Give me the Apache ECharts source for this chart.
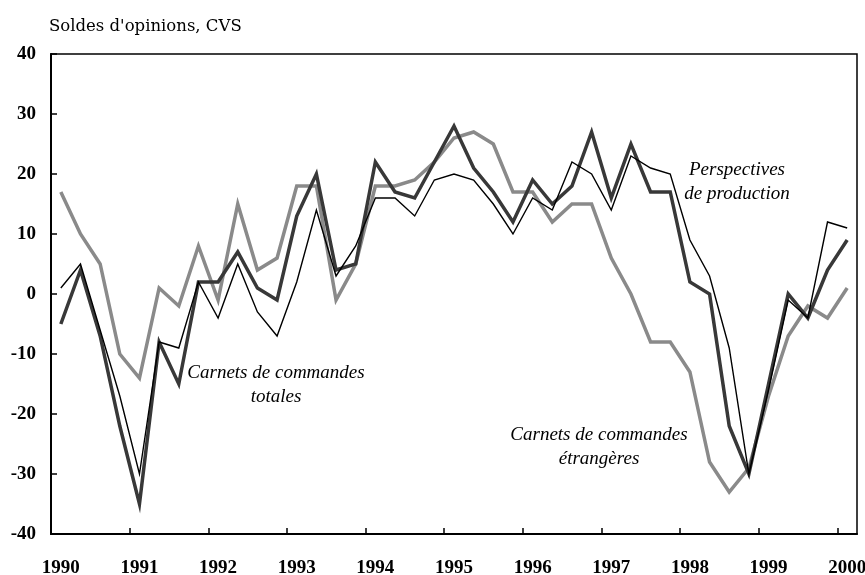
<!DOCTYPE html>
<html>
<head>
<meta charset="utf-8">
<script src="https://cdn.jsdelivr.net/npm/echarts@6/dist/echarts.min.js"></script>
<style>
html,body{margin:0;padding:0;background:#fff;}
#chart{width:865px;height:575px;}
</style>
</head>
<body>
<div id="chart"></div>
<script>
// Quarters 1990T1 .. 2000T1
const quarters = [
  "1990T1","1990T2","1990T3","1990T4",
  "1991T1","1991T2","1991T3","1991T4",
  "1992T1","1992T2","1992T3","1992T4",
  "1993T1","1993T2","1993T3","1993T4",
  "1994T1","1994T2","1994T3","1994T4",
  "1995T1","1995T2","1995T3","1995T4",
  "1996T1","1996T2","1996T3","1996T4",
  "1997T1","1997T2","1997T3","1997T4",
  "1998T1","1998T2","1998T3","1998T4",
  "1999T1","1999T2","1999T3","1999T4",
  "2000T1"
];
const tickYears = [1990,1991,1992,1993,1994,1995,1996,1997,1998,1999,2000];
const yTicks = [-40,-30,-20,-10,0,10,20,30,40];

// Perspectives de production (thin black)
const perspectives = [
  1, 5, -6, -17,
  -30, -8, -9, 2,
  -4, 5, -3, -7,
  2, 14, 3, 8,
  16, 16, 13, 19,
  20, 19, 15, 10,
  16, 14, 22, 20,
  14, 23, 21, 20,
  9, 3, -9, -30,
  -16, -1, -4, 12,
  11
];
// Carnets de commandes totales (thick dark grey)
const totales = [
  -5, 4, -7, -22,
  -35, -8, -15, 2,
  2, 7, 1, -1,
  13, 20, 4, 5,
  22, 17, 16, 22,
  28, 21, 17, 12,
  19, 15, 18, 27,
  16, 25, 17, 17,
  2, 0, -22, -30,
  -15, 0, -4, 4,
  9
];
// Carnets de commandes étrangères (thick light grey)
const etrangeres = [
  17, 10, 5, -10,
  -14, 1, -2, 8,
  -1, 15, 4, 6,
  18, 18, -1, 5,
  18, 18, 19, 22,
  26, 27, 25, 17,
  17, 12, 15, 15,
  6, 0, -8, -8,
  -13, -28, -33, -29,
  -17, -7, -2, -4,
  1
];

// quarter label -> position on the time axis (middle of the quarter)
function qPos(q){
  const y = parseInt(q.slice(0,4),10);
  const n = parseInt(q.slice(5),10);
  return y + (n - 0.5) / 4;
}
function pairs(vals){ return quarters.map((q,i)=>[qPos(q), vals[i]]); }

const labelPositions = tickYears.map(y => qPos(y + "T1"));

const chart = echarts.init(document.getElementById('chart'), null, {renderer:'canvas'});
const tickFont = {fontFamily:'"Liberation Serif", serif', fontWeight:'bold', fontSize:19, color:'#000'};
const annFont = '"Liberation Serif", serif';

chart.setOption({
  animation:false,
  backgroundColor:'#fff',
  grid:{left:51, right:8, top:54, bottom:41, show:true, borderColor:'#000', borderWidth:1.5,
        backgroundColor:'transparent', containLabel:false, outerBoundsMode:'none'},
  xAxis:{
    type:'value', min:1990, max:2000.25, interval:1,
    axisLine:{show:true, onZero:false, lineStyle:{color:'#000', width:2}},
    axisTick:{show:true, inside:true, length:6, lineStyle:{color:'#000', width:1.5}, customValues: tickYears},
    axisLabel:Object.assign({show:true, margin:25, hideOverlap:false, customValues: labelPositions,
      formatter: v => String(Math.floor(v + 1e-6))}, tickFont),
    splitLine:{show:false}
  },
  yAxis:{
    type:'value', min:-40, max:40, interval:10,
    axisLine:{show:true, onZero:false, lineStyle:{color:'#000', width:2}},
    axisTick:{show:true, inside:true, length:6, lineStyle:{color:'#000', width:1.5}},
    axisLabel:Object.assign({show:true, margin:15, customValues: yTicks}, tickFont),
    splitLine:{show:false}
  },
  series:[
    {name:"Carnets de commandes étrangères", type:'line', data:pairs(etrangeres), showSymbol:false, symbol:'none',
     lineStyle:{color:'#8a8a8a', width:3.5, join:'miter'}, z:2},
    {name:"Carnets de commandes totales", type:'line', data:pairs(totales), showSymbol:false, symbol:'none',
     lineStyle:{color:'#383838', width:3.5, join:'miter'}, z:3},
    {name:"Perspectives de production", type:'line', data:pairs(perspectives), showSymbol:false, symbol:'none',
     lineStyle:{color:'#000', width:1.4, join:'miter'}, z:4}
  ],
  graphic:[
    {type:'text', left:49, top:18, style:{text:"Soldes d'opinions, CVS", font:'16.5px "DejaVu Serif", serif', fill:'#000'}},
    {type:'text', x:276, y:385, style:{text:"Carnets de commandes\ntotales", font:'italic 19px '+annFont, fill:'#000', align:'center', verticalAlign:'middle', lineHeight:24}, z:10},
    {type:'text', x:737, y:182, style:{text:"Perspectives\nde production", font:'italic 19px '+annFont, fill:'#000', align:'center', verticalAlign:'middle', lineHeight:24}, z:10},
    {type:'text', x:599, y:447, style:{text:"Carnets de commandes\nétrangères", font:'italic 19px '+annFont, fill:'#000', align:'center', verticalAlign:'middle', lineHeight:24}, z:10}
  ]
});
</script>
</body>
</html>
